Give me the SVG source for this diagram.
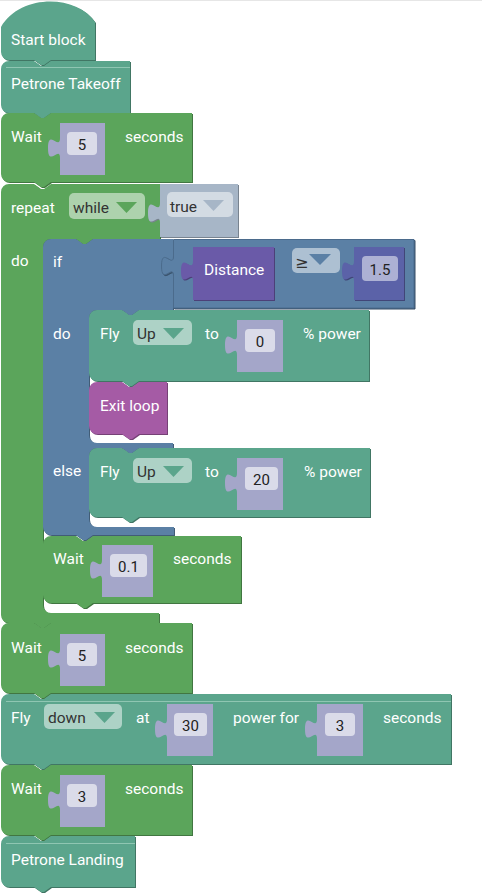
<svg xmlns="http://www.w3.org/2000/svg" width="482" height="895" viewBox="0 0 482 895">
  <defs>
    <style>
      .lbl { font-family: Roboto, "Noto Sans", "Liberation Sans", sans-serif; font-size: 15.5px; fill: #fff; }
      .val { font-family: Roboto, "Noto Sans", "Liberation Sans", sans-serif; font-size: 15px; fill: #222; text-anchor: middle; }
      .dd  { font-family: Roboto, "Noto Sans", "Liberation Sans", sans-serif; font-size: 15.5px; fill: #333; }
      .op  { font-family: "DejaVu Sans", sans-serif; font-size: 16px; fill: #333; }
      .teal { fill: #5ba58c; }
      .green { fill: #5ba55b; }
      .blue { fill: #5b80a5; }
      .slot { fill: #a4a6c9; }
      .field { fill: #fff; fill-opacity: 0.6; }
      .ddbg { fill: #fff; fill-opacity: 0.5; }
      .hl { stroke: #8fc6b2; stroke-width: 1; }
    </style>
    <!-- darker copy offset down-right: the bevel along bottom/right edges -->
    <filter id="shade" x="-5%" y="-5%" width="110%" height="110%" color-interpolation-filters="sRGB">
      <feOffset in="SourceGraphic" dx="1" dy="1" result="off"/>
      <feComponentTransfer in="off" result="dark">
        <feFuncR type="linear" slope="0.72"/>
        <feFuncG type="linear" slope="0.72"/>
        <feFuncB type="linear" slope="0.72"/>
      </feComponentTransfer>
      <feMerge><feMergeNode in="dark"/><feMergeNode in="SourceGraphic"/></feMerge>
    </filter>
  </defs>

  <line x1="0" y1="0.5" x2="482" y2="0.5" stroke="#e6e6e6"/>

  <g id="start-block">
    <path class="teal" filter="url(#shade)" d="M1,27 C20,-6 76,-6 95,22 V60 H51 l-7,5 -3,0 -7,-5 H9 A8,8 0 0 1 1,52 Z"/>
    <text class="lbl" x="11" y="45">Start block</text>
  </g>

  <g id="takeoff">
    <path class="teal" filter="url(#shade)" d="M1,69 A8,8 0 0 1 9,61 H34 l7,5 3,0 7,-5 H130 V113 H51 l-7,5 -3,0 -7,-5 H9 A8,8 0 0 1 1,105 Z"/>
    <line class="hl" x1="6" y1="67.5" x2="130" y2="67.5"/>
    <text class="lbl" x="11" y="89">Petrone Takeoff</text>
  </g>

  <g id="wait-1">
    <path class="green" filter="url(#shade)" d="M1,121 A8,8 0 0 1 9,113 H34 l7,5 3,0 7,-5 H192 V182 H51 l-7,5 -3,0 -7,-5 H9 A8,8 0 0 1 1,174 Z"/>
    <text class="lbl" x="11" y="142">Wait</text>
    <path class="slot" d="M60,123 H105 V175 H60 V158 c0,-13 -12,10 -12,-10 c0,-20 12,3 12,-10 Z"/>
    <rect class="field" x="67" y="132" width="30" height="23" rx="4"/>
    <text class="val" x="82" y="150">5</text>
    <text class="lbl" x="125" y="142">seconds</text>
  </g>

  <g id="repeat">
    <path class="green" filter="url(#shade)" d="M1,192 A8,8 0 0 1 9,184 H34 l7,5 3,0 7,-5 H160 V239 H93 l-7,5 -3,0 -7,-5 H51 A8,8 0 0 0 43,247 V605 A8,8 0 0 0 51,613 H159 V623 H51 l-7,5 -3,0 -7,-5 H9 A8,8 0 0 1 1,615 Z"/>
    <text class="lbl" x="11" y="213">repeat</text>
    <rect class="ddbg" x="69" y="193" width="76" height="26" rx="5"/>
    <text class="dd" x="73" y="213">while</text>
    <polygon points="116,202 137,202 126.5,213" fill="#5ba55b"/>
    <text class="lbl" x="11" y="266">do</text>
  </g>

  <g id="true-value">
    <path fill="#a7b6c7" filter="url(#shade)" d="M160,184 H238 V237 H160 V223 c0,-13 -12,10 -12,-10 c0,-20 12,3 12,-10 Z"/>
    <rect class="ddbg" x="167" y="192" width="66" height="25" rx="5"/>
    <text class="dd" x="170" y="212">true</text>
    <polygon points="203,200 224,200 213.5,211" fill="#a7b6c7"/>
  </g>

  <g id="if-else">
    <path class="blue" filter="url(#shade)" d="M43,247 A8,8 0 0 1 51,239 H76 l7,5 3,0 7,-5 H173 V310 H139 l-7,5 -3,0 -7,-5 H97 A8,8 0 0 0 89,318 V435 A8,8 0 0 0 97,443 H173 V448 H139 l-7,5 -3,0 -7,-5 H97 A8,8 0 0 0 89,456 V519 A8,8 0 0 0 97,527 H174 V535 H93 l-7,5 -3,0 -7,-5 H51 A8,8 0 0 1 43,527 Z"/>
    <text class="lbl" x="53" y="267">if</text>
    <text class="lbl" x="53" y="339">do</text>
    <text class="lbl" x="53" y="476">else</text>
  </g>

  <g id="compare">
    <path class="blue" filter="url(#shade)" stroke="#4b6b8c" stroke-width="1" d="M173.5,239.5 H414 V308 H173.5 V276 c0,-13 -12,10 -12,-10 c0,-20 12,3 12,-10 Z"/>
    <rect class="ddbg" x="292" y="248" width="48" height="25" rx="5"/>
    <text class="op" x="295" y="268">≥</text>
    <polygon points="309,254 331,254 320,265" fill="#5b80a5"/>
  </g>

  <g id="distance">
    <path fill="#6a5aa8" filter="url(#shade)" d="M193,247 H274 V300 H193 V281 c0,-13 -12,10 -12,-10 c0,-20 12,3 12,-10 Z"/>
    <text class="lbl" x="204" y="275">Distance</text>
  </g>

  <g id="num-1-5">
    <path fill="#5b62a8" filter="url(#shade)" d="M354,247 H404 V300 H354 V281 c0,-13 -12,10 -12,-10 c0,-20 12,3 12,-10 Z"/>
    <rect class="ddbg" x="362" y="256" width="36" height="25" rx="4"/>
    <text class="val" x="380" y="275">1.5</text>
  </g>

  <g id="fly-up-0">
    <path class="teal" filter="url(#shade)" d="M89,318 A8,8 0 0 1 97,310 H122 l7,5 3,0 7,-5 H369 V381 H139 l-7,5 -3,0 -7,-5 H97 A8,8 0 0 1 89,373 Z"/>
    <text class="lbl" x="100" y="339">Fly</text>
    <rect class="ddbg" x="133" y="320" width="59" height="25" rx="5"/>
    <text class="dd" x="137" y="339">Up</text>
    <polygon points="163,328 184,328 173.5,339" fill="#5ba58c"/>
    <text class="lbl" x="205" y="339">to</text>
    <path class="slot" d="M237,320 H283 V372 H237 V355 c0,-13 -12,10 -12,-10 c0,-20 12,3 12,-10 Z"/>
    <rect class="field" x="245" y="329" width="30" height="23" rx="4"/>
    <text class="val" x="260" y="347">0</text>
    <text class="lbl" x="303" y="339">% power</text>
  </g>

  <g id="exit-loop">
    <path fill="#a55ba5" filter="url(#shade)" d="M89,390 A8,8 0 0 1 97,382 H122 l7,5 3,0 7,-5 H167 V434 H139 l-7,5 -3,0 -7,-5 H97 A8,8 0 0 1 89,426 Z"/>
    <text class="lbl" x="100" y="411">Exit loop</text>
  </g>

  <g id="fly-up-20">
    <path class="teal" filter="url(#shade)" d="M89,456 A8,8 0 0 1 97,448 H122 l7,5 3,0 7,-5 H370 V517 H139 l-7,5 -3,0 -7,-5 H97 A8,8 0 0 1 89,509 Z"/>
    <text class="lbl" x="100" y="477">Fly</text>
    <rect class="ddbg" x="133" y="458" width="59" height="25" rx="5"/>
    <text class="dd" x="137" y="477">Up</text>
    <polygon points="163,466 184,466 173.5,477" fill="#5ba58c"/>
    <text class="lbl" x="205" y="477">to</text>
    <path class="slot" d="M237,458 H283 V510 H237 V493 c0,-13 -12,10 -12,-10 c0,-20 12,3 12,-10 Z"/>
    <rect class="field" x="245" y="467" width="33" height="23" rx="4"/>
    <text class="val" x="261.5" y="485">20</text>
    <text class="lbl" x="304" y="477">% power</text>
  </g>

  <g id="wait-0-1">
    <path class="green" filter="url(#shade)" d="M43,544 A8,8 0 0 1 51,536 H76 l7,5 3,0 7,-5 H241 V603 H93 l-7,5 -3,0 -7,-5 H51 A8,8 0 0 1 43,595 Z"/>
    <text class="lbl" x="53" y="564">Wait</text>
    <path class="slot" d="M102,545 H153 V597 H102 V580 c0,-13 -12,10 -12,-10 c0,-20 12,3 12,-10 Z"/>
    <rect class="field" x="110" y="554" width="37" height="23" rx="4"/>
    <text class="val" x="128.5" y="572">0.1</text>
    <text class="lbl" x="173" y="564">seconds</text>
  </g>

  <g id="wait-2">
    <path class="green" filter="url(#shade)" d="M1,631 A8,8 0 0 1 9,623 H34 l7,5 3,0 7,-5 H192 V693 H51 l-7,5 -3,0 -7,-5 H9 A8,8 0 0 1 1,685 Z"/>
    <text class="lbl" x="11" y="653">Wait</text>
    <path class="slot" d="M60,634 H105 V686 H60 V669 c0,-13 -12,10 -12,-10 c0,-20 12,3 12,-10 Z"/>
    <rect class="field" x="67" y="643" width="30" height="23" rx="4"/>
    <text class="val" x="82" y="661">5</text>
    <text class="lbl" x="125" y="653">seconds</text>
  </g>

  <g id="fly-down">
    <path class="teal" filter="url(#shade)" d="M1,702 A8,8 0 0 1 9,694 H34 l7,5 3,0 7,-5 H451 V764 H51 l-7,5 -3,0 -7,-5 H9 A8,8 0 0 1 1,756 Z"/>
    <line class="hl" x1="6" y1="701.5" x2="451" y2="701.5"/>
    <text class="lbl" x="11" y="723">Fly</text>
    <rect class="ddbg" x="44" y="704" width="78" height="25" rx="5"/>
    <text class="dd" x="48" y="723">down</text>
    <polygon points="94,712 115,712 104.5,723" fill="#5ba58c"/>
    <text class="lbl" x="136" y="723">at</text>
    <path class="slot" d="M167,704 H213 V756 H167 V739 c0,-13 -12,10 -12,-10 c0,-20 12,3 12,-10 Z"/>
    <rect class="field" x="174" y="713" width="33" height="23" rx="4"/>
    <text class="val" x="190.5" y="731">30</text>
    <text class="lbl" x="233" y="723">power for</text>
    <path class="slot" d="M317,704 H363 V756 H317 V739 c0,-13 -12,10 -12,-10 c0,-20 12,3 12,-10 Z"/>
    <rect class="field" x="325" y="713" width="30" height="23" rx="4"/>
    <text class="val" x="340" y="731">3</text>
    <text class="lbl" x="383" y="723">seconds</text>
  </g>

  <g id="wait-3">
    <path class="green" filter="url(#shade)" d="M1,773 A8,8 0 0 1 9,765 H34 l7,5 3,0 7,-5 H192 V835 H51 l-7,5 -3,0 -7,-5 H9 A8,8 0 0 1 1,827 Z"/>
    <text class="lbl" x="11" y="794">Wait</text>
    <path class="slot" d="M60,775 H105 V827 H60 V810 c0,-13 -12,10 -12,-10 c0,-20 12,3 12,-10 Z"/>
    <rect class="field" x="67" y="784" width="30" height="23" rx="4"/>
    <text class="val" x="82" y="802">3</text>
    <text class="lbl" x="125" y="794">seconds</text>
  </g>

  <g id="landing">
    <path class="teal" filter="url(#shade)" d="M1,844 A8,8 0 0 1 9,836 H34 l7,5 3,0 7,-5 H135 V887 H51 l-7,5 -3,0 -7,-5 H9 A8,8 0 0 1 1,879 Z"/>
    <line class="hl" x1="6" y1="843.5" x2="135" y2="843.5"/>
    <text class="lbl" x="11" y="865">Petrone Landing</text>
  </g>
</svg>
